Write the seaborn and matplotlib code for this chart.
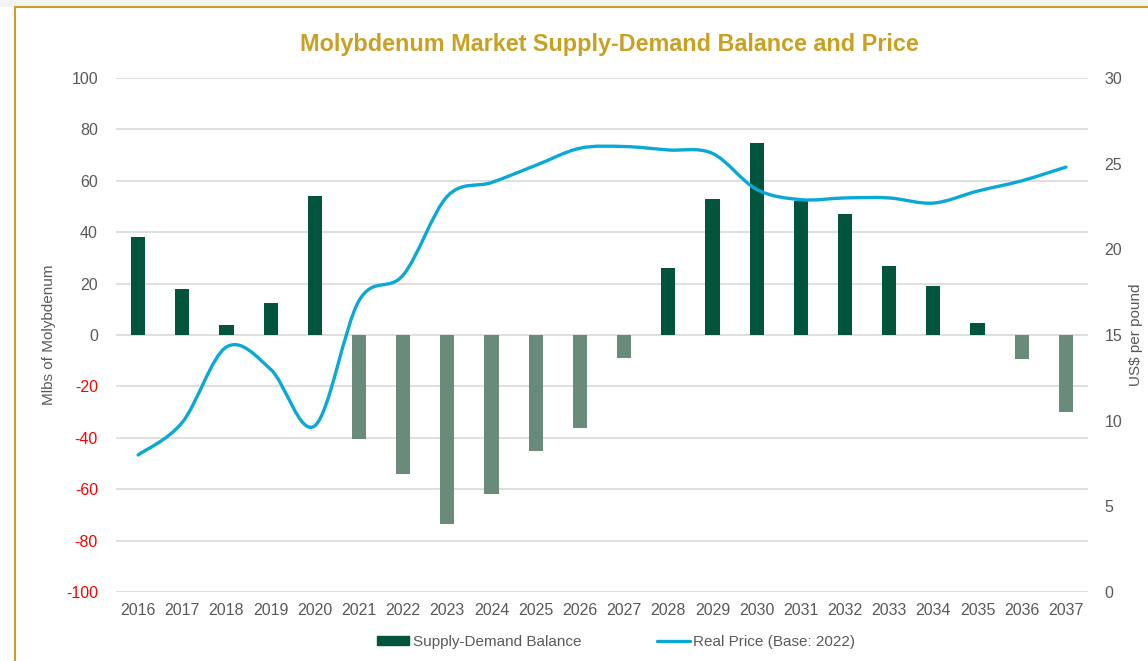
"""
Molybdenum market: supply-demand balance (bars) and real price (smooth line)
"""
import numpy as np
import pandas as pd
import matplotlib
matplotlib.use("Agg")
import matplotlib.pyplot as plt
import matplotlib.patches as mpatches
from matplotlib.lines import Line2D
from matplotlib.path import Path
import seaborn as sns

# ── Data ─────────────────────────────────────────────────────────────────────
years = [str(y) for y in range(2016, 2038)]
balance = [38, 17.8, 4, 12.5, 54, -40.6, -54, -73.5, -62, -45, -36, -9,
           26, 52.8, 74.6, 52, 47, 27, 19, 4.7, -9.5, -30]
price = [8.0, 9.9, 14.3, 13.0, 9.7, 17.0, 18.5, 23.1, 23.9, 24.9, 25.9, 26.0,
         25.8, 25.6, 23.5, 22.9, 23.0, 23.0, 22.7, 23.4, 24.0, 24.8]

left_ticks = list(range(-100, 101, 20))
right_ticks = list(range(0, 31, 5))

pos_col = "#03543C"
neg_col = "#6B8B7A"
line_col = "#0AA8D6"
gold = "#C9A021"
grey_txt = "#595959"

df = pd.DataFrame({"year": years, "balance": balance, "price": price})
df["col"] = [pos_col if v >= 0 else neg_col for v in df["balance"]]

# ── Figure ───────────────────────────────────────────────────────────────────
sns.set_theme(style="white")
plt.rcParams["font.family"] = ["Liberation Sans", "DejaVu Sans"]
plt.rcParams["axes.unicode_minus"] = False

fig = plt.figure(figsize=(11.48, 6.61), dpi=100)
fig.patch.set_facecolor("white")

# bandeau gris + cadre doré (capture d'écran)
fig.patches.append(mpatches.Rectangle((0, 1 - 7 / 661), 1, 7 / 661, transform=fig.transFigure,
                                      facecolor="#F2F4F4", edgecolor="none", zorder=0))
fig.lines.append(Line2D([15 / 1148, 15 / 1148], [0, 1 - 7 / 661], transform=fig.transFigure,
                        color=gold, lw=1.5))
fig.lines.append(Line2D([15 / 1148, 1], [1 - 7 / 661, 1 - 7 / 661], transform=fig.transFigure,
                        color=gold, lw=1.5))

ax = fig.add_axes([116 / 1148, 1 - 592 / 661, (1088 - 116) / 1148, (592 - 78) / 661])

sns.barplot(data=df, x="year", y="balance", hue="year", palette=list(df["col"]),
            legend=False, width=0.32, saturation=1, ax=ax, zorder=2, edgecolor="none")

ax.set_ylim(-100, 100)
ax.set_yticks(left_ticks)
ax.set_xlim(-0.5, len(years) - 0.5)
ax.yaxis.grid(True, color="#D9D9D9", lw=1.2, zorder=0)
ax.set_axisbelow(True)
for s in ax.spines.values():
    s.set_visible(False)
ax.tick_params(axis="both", length=0, labelsize=11.5, colors=grey_txt, pad=8)
ax.tick_params(axis="y", pad=13)
for lab, v in zip(ax.get_yticklabels(), left_ticks):
    lab.set_color("#FF0000" if v < 0 else grey_txt)
ax.set_xlabel("")
ax.set_ylabel("Mlbs of Molybdenum", fontsize=11, color=grey_txt, labelpad=7)

# ── Prix : courbe lissée (Catmull-Rom -> Bézier) sur l'axe droit ─────────────
ax2 = ax.twinx()
ax2.set_ylim(0, 30)
ax2.set_yticks(right_ticks)
for s in ax2.spines.values():
    s.set_visible(False)
ax2.tick_params(axis="y", length=0, labelsize=11.5, colors=grey_txt, pad=12)
ax2.set_ylabel("US$ per pound", fontsize=11, color=grey_txt, labelpad=5)
ax2.grid(False)

pts = np.column_stack([np.arange(len(price)), price]).astype(float)
ext = np.vstack([pts[0], pts, pts[-1]])
verts = [tuple(pts[0])]
codes = [Path.MOVETO]
for i in range(len(pts) - 1):
    p0, p1, p2, p3 = ext[i], ext[i + 1], ext[i + 2], ext[i + 3]
    c1 = p1 + (p2 - p0) / 6
    c2 = p2 - (p3 - p1) / 6
    verts += [tuple(c1), tuple(c2), tuple(p2)]
    codes += [Path.CURVE4] * 3
ax2.add_patch(mpatches.PathPatch(Path(verts, codes), facecolor="none", edgecolor=line_col,
                                 lw=2.4, capstyle="round", zorder=3))

# ── Titre et légende ─────────────────────────────────────────────────────────
fig.text(609 / 1148, 1 - 44 / 661, "Molybdenum Market Supply-Demand Balance and Price",
         ha="center", va="center", fontsize=16.8, fontweight="bold", color=gold)

handles = [mpatches.Patch(color=pos_col, label="Supply-Demand Balance"),
           Line2D([0], [0], color=line_col, lw=2.4, label="Real Price (Base: 2022)")]
leg = fig.legend(handles=handles, loc="center", bbox_to_anchor=(616 / 1148, 1 - 642 / 661),
                 ncol=2, frameon=False, fontsize=11, handlelength=2.1, handleheight=0.45,
                 handletextpad=0.25, columnspacing=5.0)
for t in leg.get_texts():
    t.set_color(grey_txt)

fig.savefig("out.png", dpi=100)
plt.close()
